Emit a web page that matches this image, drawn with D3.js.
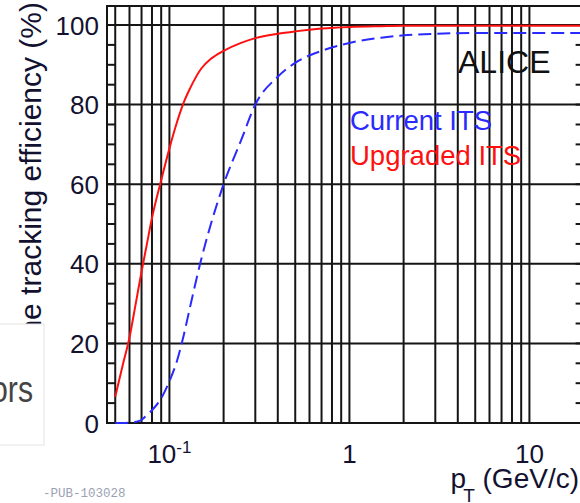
<!DOCTYPE html>
<html>
<head>
<meta charset="utf-8">
<script src="https://cdn.jsdelivr.net/npm/d3@7"></script>
<style>
body { margin: 0; background: #fff; overflow: hidden; }
svg { display: block; font-family: "Liberation Sans", Arial, sans-serif; }
</style>
</head>
<body>
<script>
// transverse momentum samples (GeV/c) and efficiencies (%)
const pT = [0.05, 0.055, 0.06, 0.065, 0.07, 0.075, 0.08, 0.09, 0.1, 0.11, 0.12, 0.13, 0.15, 0.17, 0.2, 0.25, 0.3, 0.4, 0.5, 0.7, 1, 1.5, 2, 3, 5, 10, 20];
const upgradedITS = [6.6, 14.5, 21.5, 30, 38, 45, 51.5, 61, 69, 75.5, 80.5, 84, 89, 91.5, 93.5, 95.5, 96.7, 97.8, 98.4, 99.1, 99.5, 99.7, 99.8, 99.8, 99.8, 99.8, 99.8];
const currentITS = [0, 0, 0.1, 0.3, 0.8, 2, 3.2, 6.2, 10.5, 15.5, 22, 29, 41, 50, 60, 71, 80, 87, 90.5, 93.5, 95.5, 96.8, 97.4, 97.8, 98, 98, 98];

const yTickValues = [0, 20, 40, 60, 80, 100];
const xTickValues = [0.1, 1, 10];
const xTickBase = ["10", "1", "10"];
const xTickSup = ["-1", "", ""];

const width = 580, height = 503;
const plotLeft = 107, plotTop = 6, plotBottom = 423;
const decade = 180;

const svg = d3.select("body").append("svg").attr("width", width).attr("height", height);

const x = d3.scaleLog().domain([0.045, 20]).range([plotLeft, plotLeft + decade * Math.log10(20 / 0.045)]);
const y = d3.scaleLinear().domain([0, 105]).range([plotBottom, plotBottom - 105 * 3.98]);
const plotRight = x.range()[1];

// grid
svg.append("g").selectAll("line")
  .data(x.ticks())
  .enter().append("line")
  .attr("x1", d => x(d)).attr("x2", d => x(d))
  .attr("y1", plotTop).attr("y2", plotBottom)
  .attr("stroke", "#151515").attr("stroke-width", 2);

svg.append("g").selectAll("line")
  .data(yTickValues)
  .enter().append("line")
  .attr("x1", plotLeft).attr("x2", plotRight)
  .attr("y1", d => y(d)).attr("y2", d => y(d))
  .attr("stroke", "#151515").attr("stroke-width", 2);

// minor ticks on left and right
const minor = d3.range(0, 105, 5);
svg.append("g").selectAll("line")
  .data(minor)
  .enter().append("line")
  .attr("x1", plotLeft).attr("x2", plotLeft + 8)
  .attr("y1", d => y(d)).attr("y2", d => y(d))
  .attr("stroke", "#151515").attr("stroke-width", 2);
svg.append("g").selectAll("line")
  .data(minor)
  .enter().append("line")
  .attr("x1", plotRight).attr("x2", plotRight - 8)
  .attr("y1", d => y(d)).attr("y2", d => y(d))
  .attr("stroke", "#151515").attr("stroke-width", 2);

// frame
svg.append("rect")
  .attr("x", plotLeft).attr("y", plotTop)
  .attr("width", plotRight - plotLeft).attr("height", plotBottom - plotTop)
  .attr("fill", "none").attr("stroke", "#151515").attr("stroke-width", 2);

// curves
const line = d3.line()
  .x((d, i) => x(pT[i]))
  .y(d => y(d))
  .curve(d3.curveMonotoneX);

svg.append("path")
  .datum(currentITS)
  .attr("d", line)
  .attr("fill", "none")
  .attr("stroke", "#2a2aff")
  .attr("stroke-width", 2)
  .attr("stroke-dasharray", "13,6");

svg.append("path")
  .datum(upgradedITS)
  .attr("d", line)
  .attr("fill", "none")
  .attr("stroke", "#ff1010")
  .attr("stroke-width", 2);

// y tick labels
svg.append("g").selectAll("text")
  .data(yTickValues)
  .enter().append("text")
  .attr("x", 99)
  .attr("y", d => y(d) + 9.5)
  .attr("text-anchor", "end")
  .attr("font-size", 26)
  .attr("fill", "#121230")
  .text(d => d);

// x tick labels
const xl = svg.append("g").selectAll("text")
  .data(xTickValues)
  .enter().append("text")
  .attr("x", d => x(d))
  .attr("y", 463)
  .attr("text-anchor", "middle")
  .attr("font-size", 26)
  .attr("fill", "#121230");
xl.append("tspan").text((d, i) => xTickBase[i]);
xl.append("tspan")
  .attr("font-size", 17)
  .attr("dy", -10)
  .text((d, i) => xTickSup[i]);

// axis titles
const xt = svg.append("text")
  .attr("x", 579).attr("y", 488)
  .attr("text-anchor", "end")
  .attr("font-size", 28)
  .attr("fill", "#121230");
xt.append("tspan").text("p");
xt.append("tspan").attr("font-size", 19).attr("dy", 14).attr("dx", -3).text("T");
xt.append("tspan").attr("dy", -14).text(" (GeV/c)");

// y title runs under the overlapping box, clip it where the box ends
svg.append("clipPath").attr("id", "ytitle-clip")
  .append("rect").attr("x", 0).attr("y", 0).attr("width", 60).attr("height", 440);

svg.append("g")
  .attr("clip-path", "url(#ytitle-clip)")
  .append("text")
  .attr("transform", "translate(41,2) rotate(-90)")
  .attr("text-anchor", "end")
  .attr("font-size", 30)
  .attr("fill", "#121230")
  .text("ITS standalone tracking efficiency (%)");

// labels inside the plot
svg.append("text")
  .attr("x", 458).attr("y", 73)
  .attr("font-size", 32)
  .attr("fill", "#111")
  .text("ALICE");

svg.append("text")
  .attr("x", 350).attr("y", 130)
  .attr("font-size", 27.5)
  .attr("fill", "#2a2aff")
  .text("Current ITS");

svg.append("text")
  .attr("x", 350).attr("y", 165)
  .attr("font-size", 27.5)
  .attr("fill", "#ff1010")
  .text("Upgraded ITS");

// overlapping slide fragment at lower left
svg.append("rect")
  .attr("x", -2).attr("y", 324)
  .attr("width", 46).attr("height", 121)
  .attr("fill", "#fff").attr("stroke", "#e4e4e4").attr("stroke-width", 1);

svg.append("text")
  .attr("x", 33).attr("y", 402)
  .attr("text-anchor", "end")
  .attr("font-size", 36)
  .attr("textLength", 42)
  .attr("lengthAdjust", "spacingAndGlyphs")
  .attr("fill", "#444")
  .text("ors");

svg.append("text")
  .attr("x", 43).attr("y", 497)
  .attr("font-family", "Liberation Mono, monospace")
  .attr("font-size", 12.5)
  .attr("fill", "#9ba2b4")
  .text("-PUB-103028");
</script>
</body>
</html>
